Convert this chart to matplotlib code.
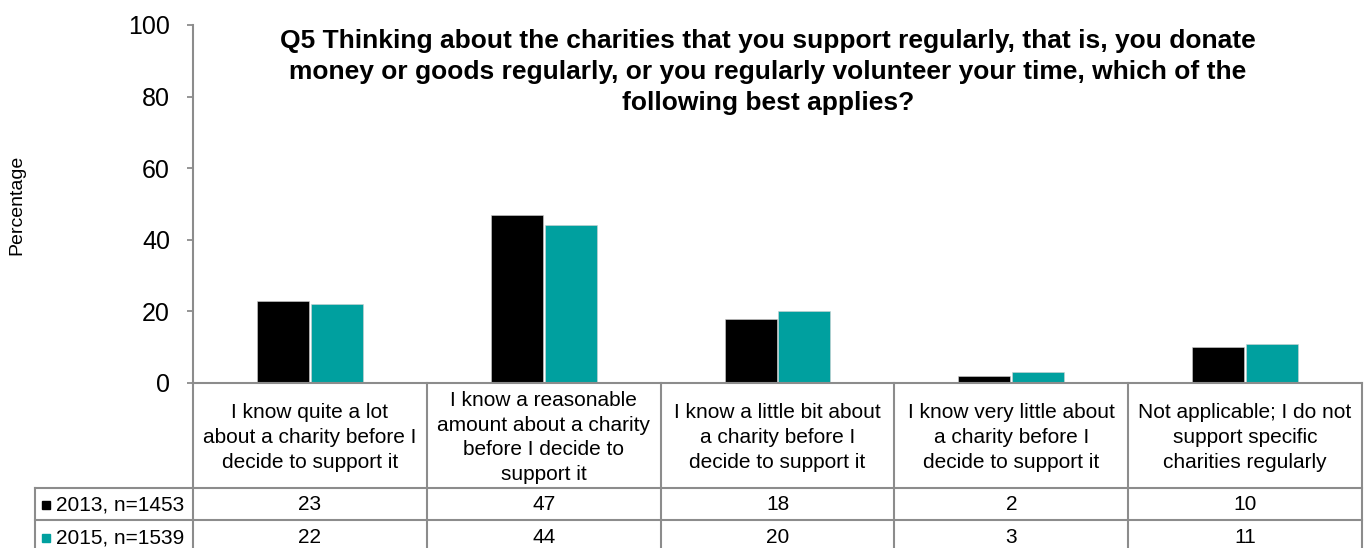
import matplotlib
matplotlib.use("Agg")
import matplotlib.pyplot as plt
import matplotlib.transforms as mtransforms
import numpy as np

plt.rcParams['font.family'] = ['Liberation Sans', 'DejaVu Sans']

categories = [
    "I know quite a lot\nabout a charity before I\ndecide to support it",
    "I know a reasonable\namount about a charity\nbefore I decide to\nsupport it",
    "I know a little bit about\na charity before I\ndecide to support it",
    "I know very little about\na charity before I\ndecide to support it",
    "Not applicable; I do not\nsupport specific\ncharities regularly",
]
series_names = ["2013, n=1453", "2015, n=1539"]
values_2013 = [23, 47, 18, 2, 10]
values_2015 = [22, 44, 20, 3, 11]
colors = ["#000000", "#00A09F"]
grid_col = "#8c8c8c"

title = ("Q5 Thinking about the charities that you support regularly, that is, you donate\n"
         "money or goods regularly, or you regularly volunteer your time, which of the\n"
         "following best applies?")

W, H = 1369, 548
fig = plt.figure(figsize=(W / 100, H / 100), dpi=100)
ax_left, ax_right, ax_top, ax_bot = 193, 1362, 25, 383
ax = fig.add_axes([ax_left / W, 1 - ax_bot / H, (ax_right - ax_left) / W, (ax_bot - ax_top) / H])

x = np.arange(len(categories))
bw = 0.222
ax.bar(x - 0.115, values_2013, bw, color=colors[0], edgecolor="#d0d0d0", linewidth=0.4)
ax.bar(x + 0.115, values_2015, bw, color=colors[1], edgecolor="#d0d0d0", linewidth=0.4)

ax.set_xlim(-0.5, len(categories) - 0.5)
ax.set_ylim(0, 100)
ax.set_yticks(range(0, 101, 20))
ax.tick_params(axis='y', labelsize=18, length=4.5, width=1.3, color=grid_col, pad=12)
ax.set_xticks([])
for s in ["top", "right", "bottom"]:
    ax.spines[s].set_visible(False)
ax.spines["left"].set_color(grid_col)
ax.spines["left"].set_linewidth(1.5)

fig.text(17 / W, 1 - 205 / H, "Percentage", rotation=90, ha="center", va="center", fontsize=14)
fig.text(768 / W, 1 - 72 / H, title, ha="center", va="center", fontsize=19,
         fontweight="bold", linespacing=1.38)

# data table under the axis: x in data units, y in axes fraction
tr = mtransforms.blended_transform_factory(ax.transData, ax.transAxes)
px = 1.0 / (ax_bot - ax_top)
y_head_top = 0.0
y_head_bot = -(488 - ax_bot) * px
y_r1_bot = -(520 - ax_bot) * px
y_r2_bot = -(553 - ax_bot) * px
x_lab = -0.5 - (ax_left - 35) / ((ax_right - ax_left) / len(categories))
x_end = len(categories) - 0.5

line_kw = dict(color=grid_col, lw=1.5, transform=tr, clip_on=False)
ax.plot([-0.5, x_end], [y_head_top, y_head_top], **line_kw)
ax.plot([x_lab, x_end], [y_head_bot, y_head_bot], **line_kw)
ax.plot([x_lab, x_end], [y_r1_bot, y_r1_bot], **line_kw)
ax.plot([x_lab, x_end], [y_r2_bot, y_r2_bot], **line_kw)
ax.plot([x_lab, x_lab], [y_head_bot, y_r2_bot], **line_kw)
for b in np.arange(-0.5, len(categories)):
    ax.plot([b, b], [y_head_top, y_r2_bot], **line_kw)

y_head_mid = (y_head_top + y_head_bot) / 2 - 2 * px
for i, cat in enumerate(categories):
    ax.text(i, y_head_mid, cat, transform=tr, ha="center", va="center",
            fontsize=15, linespacing=1.38)

rows = [values_2013, values_2015]
row_mids = [(y_head_bot + y_r1_bot) / 2, (y_r1_bot + y_r2_bot) / 2]
for r, (name, vals) in enumerate(zip(series_names, rows)):
    ym = row_mids[r] - 1 * px
    ax.plot([x_lab + 0.045], [ym], marker="s", ms=6, color=colors[r], transform=tr, clip_on=False)
    ax.text(x_lab + 0.09, ym, name, transform=tr, ha="left", va="center", fontsize=15)
    for i, v in enumerate(vals):
        ax.text(i, ym, str(v), transform=tr, ha="center", va="center", fontsize=15)

fig.savefig("out.png", dpi=100)
